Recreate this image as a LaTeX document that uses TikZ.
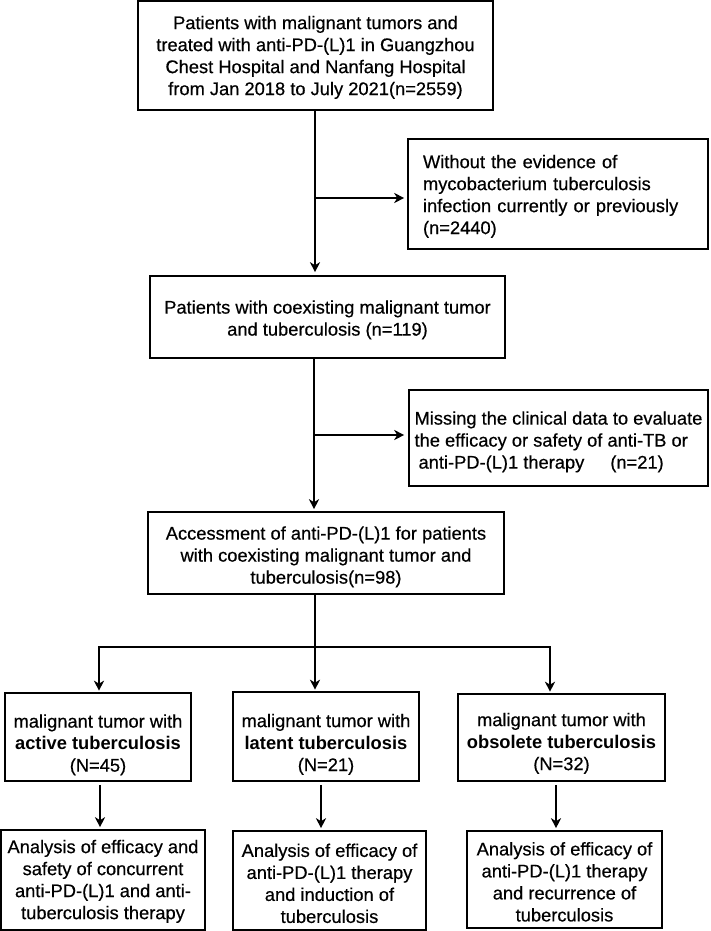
\documentclass[tikz,border=0pt]{standalone}
\usepackage{fontspec}
\setmainfont{Liberation Sans}[UprightFeatures={FakeBold=0.5}]
\usetikzlibrary{arrows.meta}
\newcommand\diagfont{\fontsize{18.3}{22}\selectfont}
\newcommand\lft[1]{\rule{0pt}{#1}}
\begin{document}
\begin{tikzpicture}[x=1pt,y=-1pt,
  box/.style={draw, line width=1.6pt, inner sep=0pt, align=center, font=\diagfont},
  arr/.style={line width=2.2pt, line join=miter, -{Stealth[length=10pt,width=10pt,inset=3pt]}},
  ln/.style={line width=2.2pt}]
\useasboundingbox (0,0) rectangle (710,931);
% main column
\node[box, minimum width=355pt, minimum height=109pt] (b1) at (315.5,55.5)
  {\lft{17pt}Patients with malignant tumors and\\treated with anti-PD-(L)1 in Guangzhou\\Chest Hospital and Nanfang Hospital\\from Jan 2018 to July 2021(n=2559)};
\node[box, align=left, text width=270pt, inner xsep=15pt, minimum height=110pt] (s1) at (558,194)
  {\lft{18pt}Without the evidence of\\mycobacterium tuberculosis\\infection currently or previously\\(n=2440)};
\node[box, minimum width=355pt, minimum height=82pt] (b2) at (327.5,317)
  {\lft{19pt}Patients with coexisting malignant tumor\\and tuberculosis (n=119)};
\node[box, align=left, minimum width=299pt, minimum height=96pt] (s2) at (558.5,438)
  {\lft{21pt}Missing the clinical data to evaluate\\the efficacy or safety of anti-TB or\\\hspace*{4pt}anti-PD-(L)1 therapy\hspace{26pt}(n=21)};
\node[box, minimum width=356pt, minimum height=82pt] (b3) at (326,553)
  {\lft{21pt}Accessment of anti-PD-(L)1 for patients\\with coexisting malignant tumor and\\tuberculosis(n=98)};
% row 4
\node[box, minimum width=186pt, minimum height=88pt] (A4) at (98,737)
  {\lft{29pt}malignant tumor with\\\textbf{active tuberculosis}\\(N=45)};
\node[box, minimum width=186pt, minimum height=89pt] (B4) at (326,736.5)
  {\lft{29pt}malignant tumor with\\\textbf{latent tuberculosis}\\(N=21)};
\node[box, minimum width=207pt, minimum height=87pt] (C4) at (561.5,737.5)
  {\lft{25pt}malignant tumor with\\\textbf{obsolete tuberculosis}\\(N=32)};
% row 5
\node[box, minimum width=204pt, minimum height=100pt] (A5) at (103,880)
  {\lft{16pt}Analysis of efficacy and\\safety of concurrent\\anti-PD-(L)1 and anti-\\tuberculosis therapy};
\node[box, minimum width=193pt, minimum height=99pt] (B5) at (329.5,880.5)
  {\lft{19pt}Analysis of efficacy of\\anti-PD-(L)1 therapy\\and induction of\\tuberculosis};
\node[box, minimum width=195pt, minimum height=97pt] (C5) at (564.5,879.5)
  {\lft{18pt}Analysis of efficacy of\\anti-PD-(L)1 therapy\\and recurrence of\\tuberculosis};
% connectors
\coordinate (j1) at (315,198);
\coordinate (j2) at (314,435);
\coordinate (f) at (315,647);
\coordinate (fl) at (99,647);
\coordinate (fr) at (550,647);
\coordinate (xa) at (100,0);
\coordinate (xb) at (321,0);
\coordinate (xc) at (556,0);
\draw[arr, shorten >=3pt] (b1.south -| j1) -- (b2.north -| j1);
\draw[arr, shorten >=3pt] (j1) -- (s1.west |- j1);
\draw[arr, shorten >=2pt] (b2.south -| j2) -- (b3.north -| j2);
\draw[arr, shorten >=4pt] (j2) -- (s2.west |- j2);
\draw[arr, shorten >=1.5pt] (b3.south -| f) -- (B4.north -| f);
\draw[arr, shorten >=1.5pt] (f) -- (fl) -- (A4.north -| fl);
\draw[arr, shorten >=1.5pt] (f) -- (fr) -- (C4.north -| fr);
\draw[arr, shorten <=3pt, shorten >=2pt] (A4.south -| xa) -- (A5.north -| xa);
\draw[arr, shorten <=3pt, shorten >=2pt] (B4.south -| xb) -- (B5.north -| xb);
\draw[arr, shorten <=3pt, shorten >=2pt] (C4.south -| xc) -- (C5.north -| xc);
\end{tikzpicture}
\end{document}
